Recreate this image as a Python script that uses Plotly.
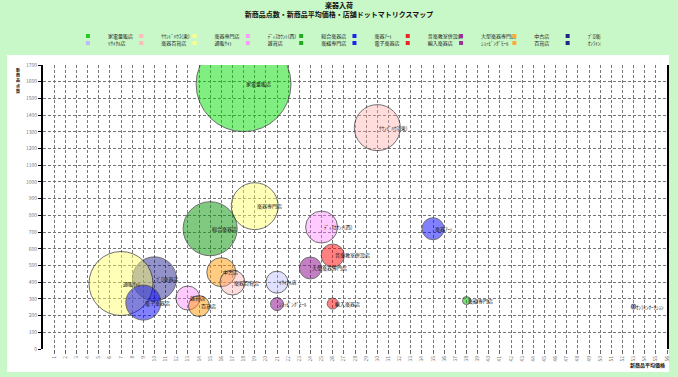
import plotly.graph_objects as go

# ---- data ----
store_names = [
    "家電量販店", "ｻｳﾝﾄﾞﾊｳｽ(東)", "楽器専門店", "ﾃﾞｨｽｶｳﾝﾄ(西)", "総合楽器店",
    "楽器ｱｰﾄ", "音楽教室併設店", "大型楽器専門店", "中古店", "ﾌﾟﾛ楽器店",
    "ﾘｻｲｸﾙ店", "楽器百貨店", "通販ｻｲﾄ", "雑貨店", "楽譜専門店",
    "電子楽器店", "輸入楽器店", "ｼｮｯﾋﾟﾝｸﾞﾓｰﾙ", "百貨店", "ｵﾝﾗｲﾝｵｰｸｼｮﾝ",
]
avg_price = [18, 30, 19, 25, 15, 35, 26, 24, 16, 10,
             21, 17, 7, 13, 38, 9, 26, 21, 14, 53]
item_count = [1585, 1325, 855, 730, 720, 720, 560, 485, 460, 420,
              400, 398, 392, 305, 290, 278, 272, 269, 257, 254]
sales_amount = [22500, 5300, 5500, 2560, 7300, 1210, 1320, 1210, 2100, 4840,
                1210, 1560, 10240, 1440, 160, 3060, 300, 420, 1100, 60]

x_ticks = list(range(1, 57))
title_text = "<b>楽器入荷<br>新商品点数・新商品平均価格・店舗ドットマトリクスマップ</b>"
x_title = "新商品平均価格"
y_title = "新商品点数"

# ---- styles ----
palette = [
    "rgba(0,221,0,0.70)", "rgba(255,170,170,0.55)", "rgba(255,255,102,0.65)",
    "rgba(255,119,255,0.55)", "rgba(17,153,17,0.75)", "rgba(0,0,255,0.70)",
    "rgba(255,0,0,0.70)", "rgba(136,0,136,0.70)", "rgba(255,153,0,0.70)",
    "rgba(0,0,128,0.60)",
    "rgba(170,170,255,0.50)", "rgba(255,170,170,0.55)", "rgba(255,255,102,0.65)",
    "rgba(255,119,255,0.55)", "rgba(17,187,17,0.75)", "rgba(0,0,255,0.70)",
    "rgba(255,0,0,0.70)", "rgba(136,0,136,0.70)", "rgba(255,153,0,0.70)",
    "rgba(0,0,128,0.60)",
]
legend_colors = [
    "#22cc22", "#ffbbbb", "#ffff88", "#ff99ff", "#22aa22", "#2222ee",
    "#ee2222", "#993399", "#ffaa33", "#222288",
    "#bbbbff", "#ffbbbb", "#ffff88", "#ff99ff", "#22aa22", "#2222ee",
    "#ee2222", "#993399", "#ffaa33", "#222288",
]
FONT = "Noto Sans CJK JP"

fig = go.Figure()
for i, name in enumerate(store_names):
    fig.add_trace(go.Scatter(
        x=[avg_price[i]], y=[item_count[i]], mode="markers", name=name,
        legendgroup=name, showlegend=False,
        marker=dict(size=[sales_amount[i]], sizemode="area", sizeref=5,
                    color=palette[i], line=dict(color="#333333", width=1)),
    ))
for i, name in enumerate(store_names):
    fig.add_trace(go.Scatter(
        x=[None], y=[None], mode="markers", name=name, legendgroup=name,
        legend="legend" if i < 10 else "legend2",
        marker=dict(size=4, color=legend_colors[i], symbol="square"),
    ))

for i, name in enumerate(store_names):
    fig.add_annotation(x=avg_price[i], y=item_count[i], text=name,
                       showarrow=False, xanchor="left", yanchor="middle",
                       font=dict(size=5, color="#111111", family=FONT))

# white panel
fig.add_shape(type="rect", xref="paper", yref="paper",
              x0=-0.0574, x1=1.0032, y0=-0.081, y1=1.0352,
              fillcolor="white", line=dict(width=0), layer="below")

fig.add_annotation(xref="paper", yref="paper", x=1.0, y=-0.035,
                   xanchor="right", yanchor="top", showarrow=False,
                   text="<b>" + x_title + "</b>",
                   font=dict(size=5, color="#111111", family=FONT))
fig.add_annotation(xref="paper", yref="paper", x=-0.040, y=1.0,
                   xanchor="center", yanchor="top", showarrow=False,
                   text="<b>" + "<br>".join(list(y_title)) + "</b>",
                   font=dict(size=4, color="#111111", family=FONT))

legend_common = dict(orientation="h", xanchor="left", yanchor="middle",
                     bgcolor="rgba(0,0,0,0)", entrywidthmode="pixels",
                     entrywidth=8.3, itemwidth=30,
                     font=dict(size=5, color="#222222", family=FONT))

fig.update_layout(
    width=678, height=377, autosize=False,
    margin=dict(l=43, r=8, t=65, b=28),
    paper_bgcolor="#c8f7c8", plot_bgcolor="white",
    font=dict(family=FONT),
    title=dict(text=title_text, x=0.5, xref="container", xanchor="center",
               y=0.979, yanchor="top", font=dict(size=7, color="#111111")),
    legend=dict(x=0.04, y=1.102, **legend_common),
    legend2=dict(x=0.04, y=1.0775, **legend_common),
    xaxis=dict(range=[0, 56], tickvals=x_ticks, tickangle=-90,
               tickfont=dict(size=5, color="#777777"),
               showgrid=True, gridcolor="#777777", griddash="3px,2px", gridwidth=1,
               zeroline=False, showline=False,
               ticks="outside", ticklen=4, tickcolor="#666666"),
    yaxis=dict(range=[0, 1700], dtick=100,
               tickfont=dict(size=5, color="#777777"),
               showgrid=True, gridcolor="#777777", griddash="3px,2px", gridwidth=1,
               zeroline=False, showline=True, linecolor="black", linewidth=2,
               mirror=True, ticks="outside", ticklen=3, tickcolor="black"),
)

fig.write_html("out.html")
